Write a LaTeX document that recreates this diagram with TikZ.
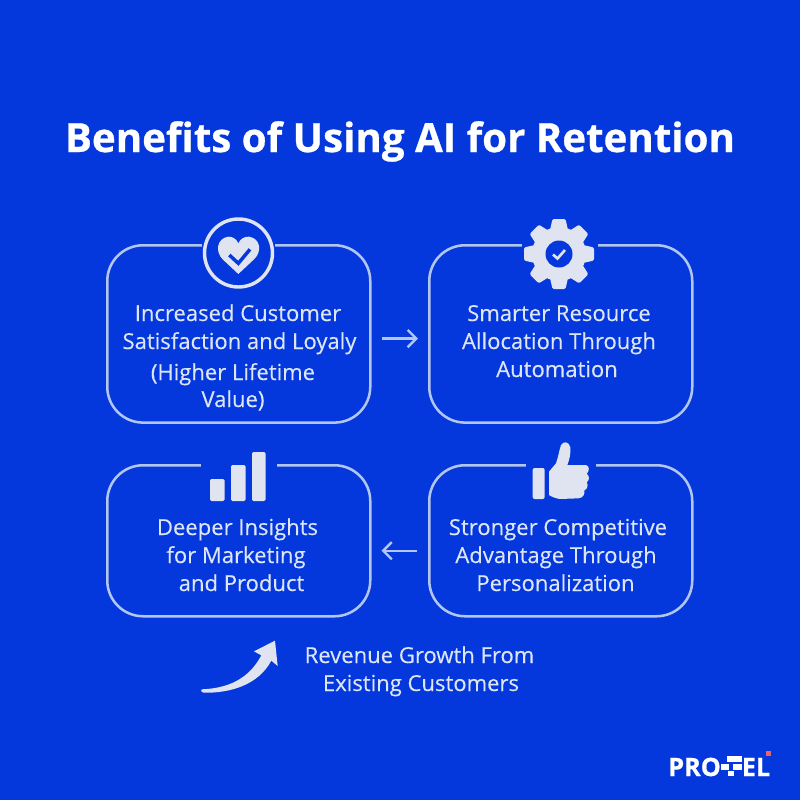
\documentclass[tikz,border=0pt]{standalone}
\usepackage{fontspec}
\setmainfont{Open Sans}
\newfontfamily\bodyfont{Open Sans}[FakeBold=0.25]
\newfontfamily\titlefont{Open Sans Bold}[FakeBold=0.7]
\newfontfamily\logofont{Open Sans Bold}[FakeBold=0.8]
\usetikzlibrary{arrows.meta}
\definecolor{bg}{HTML}{0438DD}
\definecolor{ink}{HTML}{DDE6F7}
\definecolor{iconc}{HTML}{E0E4F0}
\definecolor{edge}{HTML}{B2C6F2}
\definecolor{dotred}{HTML}{E8636B}
\tikzset{
  card/.style={draw=edge,line width=1.9pt,rounded corners=27pt,inner sep=0pt,minimum width=197.25bp,anchor=north west},
  lbl/.style={text=ink,inner sep=0pt,font=\bodyfont\fontsize{16.6pt}{16.6pt}\selectfont,anchor=base},
  flow/.style={draw=edge,line width=1.8pt,-{Straight Barb[length=6.5pt,width=13pt,line width=1.8pt]},shorten <=8pt,shorten >=7.5pt},
  gapcut/.style={fill=bg,draw=none},
  icon/.style={fill=iconc,draw=none},
  logo/.style={text=white,inner sep=0pt,font=\logofont\fontsize{19pt}{19pt}\selectfont}
}
\begin{document}
\begin{tikzpicture}[x=0.75bp,y=-0.75bp]
\useasboundingbox[fill=bg] (0,0) rectangle (800,800);
\node[text=white,inner sep=0pt,anchor=base,font=\titlefont\fontsize{30.3pt}{30.3pt}\selectfont] (title) at (400,152) {Benefits of Using AI for Retention};

% cards
\node[card,minimum height=133bp] (c1) at (106,244) {};
\node[card,minimum height=133bp] (c2) at (428,244) {};
\node[card,minimum height=113.25bp] (c3) at (106,464) {};
\node[card,minimum height=113.25bp] (c4) at (428,464) {};

% gaps in the top edges
\fill[gapcut] (202,238) rectangle (275,250);
\fill[gapcut] (522,238) rectangle (598,250);
\fill[gapcut] (201,458) rectangle (277,470);
\fill[gapcut] (526,458) rectangle (596,470);

% heart icon
\draw[draw=iconc,line width=2.6pt,fill=bg] (238.5,253) circle (34);
\begin{scope}[shift={(100,210)},x=0.25bp,y=-0.25bp]
\fill[icon] (415,192) -- (368,148) .. controls (345,125) and (350,85) .. (385,80)
  .. controls (398,79) and (410,88) .. (415,100)
  .. controls (420,88) and (432,79) .. (447,80)
  .. controls (482,85) and (487,125) .. (462,148) -- cycle;
\draw[draw=bg,line width=2.6pt,line join=miter] (388,135) -- (415,160) -- (450,118);
\end{scope}

% gear icon
\begin{scope}[shift={(559,254)}]
\fill[icon] (0,0) circle (27);
\foreach \a in {0,45,...,315}{
  \fill[icon,rotate=\a,rounded corners=1bp] (-9,-24) -- (-6.5,-35) -- (6.5,-35) -- (9,-24) -- cycle;
}
\fill[bg] (0,0) circle (13.5);
\draw[draw=iconc,line width=2pt] (-6,0.5) -- (-1.5,4.5) -- (6,-4);
\end{scope}

% bar icon
\fill[icon,rounded corners=1bp] (210,479) rectangle (224.5,501);
\fill[icon,rounded corners=1bp] (231,465) rectangle (245.5,501);
\fill[icon,rounded corners=1bp] (252,452) rectangle (265.5,501);

% thumb icon
\begin{scope}[shift={(480,430)},x=0.25bp,y=-0.25bp]
\fill[icon,rounded corners=1.5bp] (158,114) rectangle (194,207);
\fill[icon] (207,195) -- (207,125) -- (228,100) .. controls (235,80) and (238,60) .. (243,45)
  .. controls (250,32) and (268,35) .. (271,52)
  .. controls (273,70) and (268,90) .. (262,105)
  -- (318,105) .. controls (330,108) and (328,125) .. (320,131)
  .. controls (330,138) and (328,152) .. (320,157)
  .. controls (326,165) and (322,178) .. (313,181)
  .. controls (315,192) and (310,204) .. (295,205)
  -- (240,207) .. controls (225,205) and (215,200) .. (207,195) -- cycle;
\end{scope}

% card texts
\node[lbl] (t1a) at (238,321) {Increased Customer};
\node[lbl] (t1b) at (239.5,349) {Satisfaction and Loyaly};
\node[lbl] (t1c) at (233,380) {(Higher Lifetime};
\node[lbl] (t1d) at (233,407) {Value)};
\node[lbl] (t2a) at (559,321) {Smarter Resource};
\node[lbl] (t2b) at (559,349) {Allocation Through};
\node[lbl] (t2c) at (557,377) {Automation};
\node[lbl] (t3a) at (237.5,535) {Deeper Insights};
\node[lbl] (t3b) at (236,563) {for Marketing};
\node[lbl] (t3c) at (241.5,591) {and Product};
\node[lbl] (t4a) at (558,535) {Stronger Competitive};
\node[lbl] (t4b) at (556,563) {Advantage Through};
\node[lbl] (t4c) at (555.5,591) {Personalization};
\node[lbl] (t5a) at (419.5,663) {Revenue Growth From};
\node[lbl] (t5b) at (421,691) {Existing Customers};

% connectors
\draw[flow] ([yshift=-3.5]c1.east) -- ([yshift=-3.5]c2.west);
\draw[flow] ([yshift=-7.5]c4.west) -- ([yshift=-7.5]c3.east);

% growth arrow
\begin{scope}[shift={(180,630)},x=0.25bp,y=-0.25bp]
\fill[icon] (65,178) .. controls (140,175) and (205,150) .. (244,76)
  -- (222,64) -- (285,32) -- (293,108) -- (274,92)
  .. controls (235,165) and (150,190) .. (70,188)
  .. controls (62,187) and (62,180) .. (65,178) -- cycle;
\end{scope}

% logo
\node[logo,anchor=base west] (lg1) at (668,776) {PRO};
\node[logo,anchor=base east] (lg2) at (770.5,776) {EL};
\fill[white] (727,756) rectangle (742,761.5);
\fill[white] (721,764) rectangle (729,769.5);
\fill[white] (733,764) rectangle (742,769.5);
\fill[white] (728,770.5) rectangle (734,776);
\fill[dotred] (766,751) rectangle (770.5,755.5);
\end{tikzpicture}
\end{document}
